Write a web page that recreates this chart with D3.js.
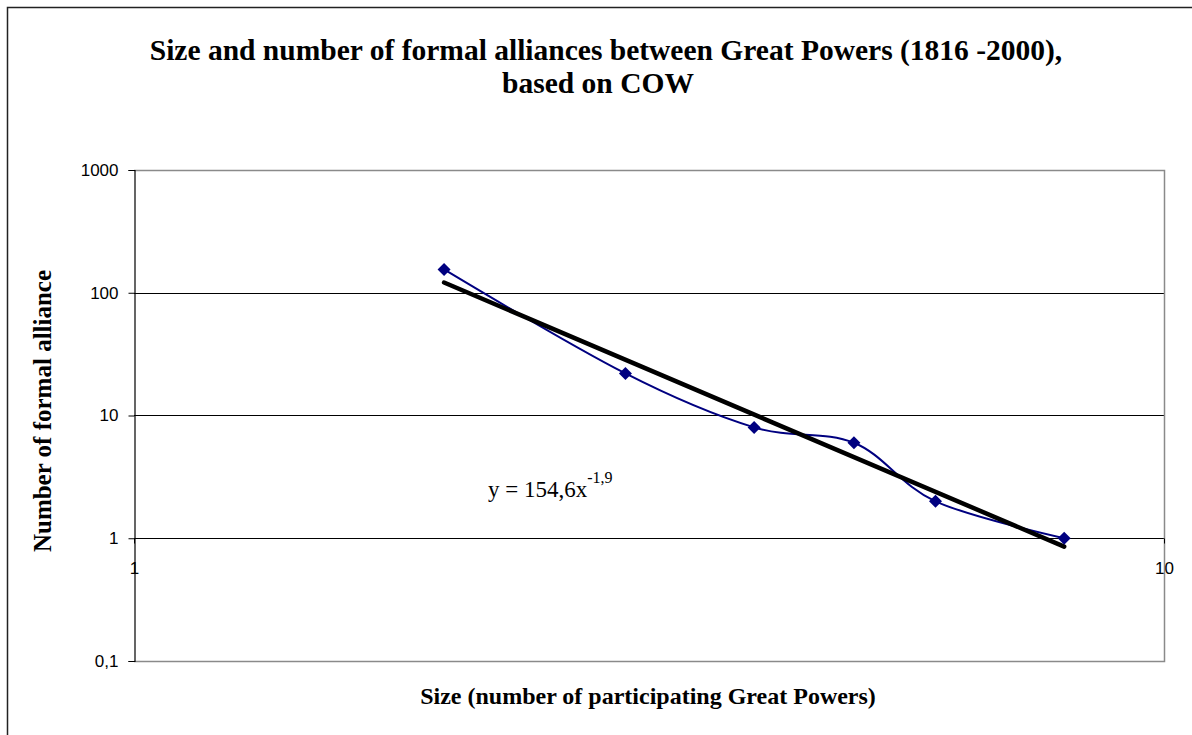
<!DOCTYPE html>
<html>
<head>
<meta charset="utf-8">
<script src="https://d3js.org/d3.v7.min.js"></script>
<style>
body { margin: 0; background: #fff; }
svg { display: block; }
text { fill: #000; }
</style>
</head>
<body>
<svg></svg>
<script>
// Data
var sizes = [2, 3, 4, 5, 6, 8];
var counts = [155, 22, 8, 6, 2, 1];
var yTicks = [0.1, 1, 10, 100, 1000];
var yTickLabels = ["0,1", "1", "10", "100", "1000"];
var xTicks = [1, 10];
var xTickLabels = ["1", "10"];
var titleLines = ["Size and number of formal alliances between Great Powers (1816 -2000),", "based on COW"];
var equation = { base: "y = 154,6x", exp: "-1,9" };

var width = 1192, height = 735;
var plot = { left: 134, right: 1164, top: 170, bottom: 661 };
var serif = "'Liberation Serif', 'Times New Roman', serif";
var sans = "'Liberation Sans', Arial, sans-serif";

var svg = d3.select("svg").attr("width", width).attr("height", height);

// outer chart frame
svg.append("rect")
  .attr("x", 7.5).attr("y", 7.5)
  .attr("width", width).attr("height", height)
  .attr("fill", "none").attr("stroke", "#222").attr("stroke-width", 1.5);

var xScale = d3.scaleLog().domain([1, 10]).range([plot.left, plot.right]);
var yScale = d3.scaleLog().domain([0.1, 1000]).range([plot.bottom, plot.top]);

// title
svg.selectAll("text.title").data(titleLines).enter().append("text")
  .attr("class", "title")
  .attr("x", function (d, i) { return i === 0 ? 606 : 598; })
  .attr("y", function (d, i) { return 60 + i * 33; })
  .attr("text-anchor", "middle")
  .style("font-family", serif)
  .style("font-weight", "bold")
  .style("font-size", "29.5px")
  .text(function (d) { return d; });

// gridlines
svg.selectAll("line.grid").data([1, 10, 100]).enter().append("line")
  .attr("class", "grid")
  .attr("x1", plot.left).attr("x2", plot.right)
  .attr("y1", function (d) { return Math.round(yScale(d)) + 0.5; })
  .attr("y2", function (d) { return Math.round(yScale(d)) + 0.5; })
  .attr("stroke", "#000").attr("stroke-width", 1);

// plot border (grey) on top, right, bottom
svg.append("path")
  .attr("d", "M" + plot.left + "," + (plot.top + 0.5) + "H" + (plot.right + 0.5) +
             "V" + (plot.bottom + 0.5) + "H" + plot.left)
  .attr("fill", "none").attr("stroke", "#8a8a8a").attr("stroke-width", 1.5);

// y axis
var yAxis = d3.axisLeft(yScale)
  .tickValues(yTicks)
  .tickFormat(function (d, i) { return yTickLabels[i]; })
  .tickSize(6).tickPadding(10);
var ya = svg.append("g").attr("transform", "translate(" + (plot.left + 0.5) + ",0)").call(yAxis);
ya.select(".domain").attr("stroke", "#000").attr("stroke-width", 1.2);
ya.selectAll(".tick line").attr("stroke", "#000");
ya.selectAll(".tick text")
  .style("font-family", sans)
  .style("font-size", "17px");

// x axis, crossing at y = 1
var xAxis = d3.axisBottom(xScale)
  .tickValues(xTicks)
  .tickFormat(function (d, i) { return xTickLabels[i]; })
  .tickSize(5).tickPadding(18);
var xa = svg.append("g").attr("transform", "translate(0," + (Math.round(yScale(1)) + 0.5) + ")").call(xAxis);
xa.select(".domain").remove();
xa.selectAll(".tick line").attr("stroke", "#000");
xa.selectAll(".tick text")
  .style("font-family", sans)
  .style("font-size", "17px");

// power trendline from least squares in log space
var lx = sizes.map(Math.log10), ly = counts.map(Math.log10);
var mx = d3.mean(lx), my = d3.mean(ly);
var slope = d3.sum(lx, function (d, i) { return (d - mx) * (ly[i] - my); }) /
            d3.sum(lx, function (d) { return (d - mx) * (d - mx); });
var intercept = my - slope * mx;
var trendX = [d3.min(sizes), d3.max(sizes)];
var trend = trendX.map(function (x) { return [x, Math.pow(10, intercept + slope * Math.log10(x))]; });

var series = sizes.map(function (s, i) { return [s, counts[i]]; });

// smoothed data series
var line = d3.line()
  .x(function (d) { return xScale(d[0]); })
  .y(function (d) { return yScale(d[1]); })
  .curve(d3.curveCardinal.tension(0));

svg.append("path")
  .attr("d", line(series))
  .attr("fill", "none").attr("stroke", "#000080").attr("stroke-width", 2);

svg.append("path")
  .attr("d", d3.line()
    .x(function (d) { return xScale(d[0]); })
    .y(function (d) { return yScale(d[1]); })(trend))
  .attr("fill", "none").attr("stroke", "#000").attr("stroke-width", 4.5)
  .attr("stroke-linecap", "round");

// diamond markers
var r = 6.5;
svg.selectAll("path.marker").data(series).enter().append("path")
  .attr("class", "marker")
  .attr("d", "M0," + (-r) + "L" + r + ",0L0," + r + "L" + (-r) + ",0Z")
  .attr("transform", function (d) { return "translate(" + xScale(d[0]) + "," + yScale(d[1]) + ")"; })
  .attr("fill", "#000080");

// equation label
var eq = svg.append("text")
  .attr("x", 488).attr("y", 497)
  .style("font-family", serif)
  .style("font-size", "23px");
eq.append("tspan").text(equation.base);
eq.append("tspan").attr("dy", -14).style("font-size", "16px").text(equation.exp);

// axis titles
svg.append("text")
  .attr("x", 648).attr("y", 704)
  .attr("text-anchor", "middle")
  .style("font-family", serif)
  .style("font-weight", "bold")
  .style("font-size", "24px")
  .text("Size (number of participating Great Powers)");

svg.append("text")
  .attr("transform", "translate(51,411) rotate(-90)")
  .attr("text-anchor", "middle")
  .style("font-family", serif)
  .style("font-weight", "bold")
  .style("font-size", "25px")
  .text("Number of formal alliance");
</script>
</body>
</html>
